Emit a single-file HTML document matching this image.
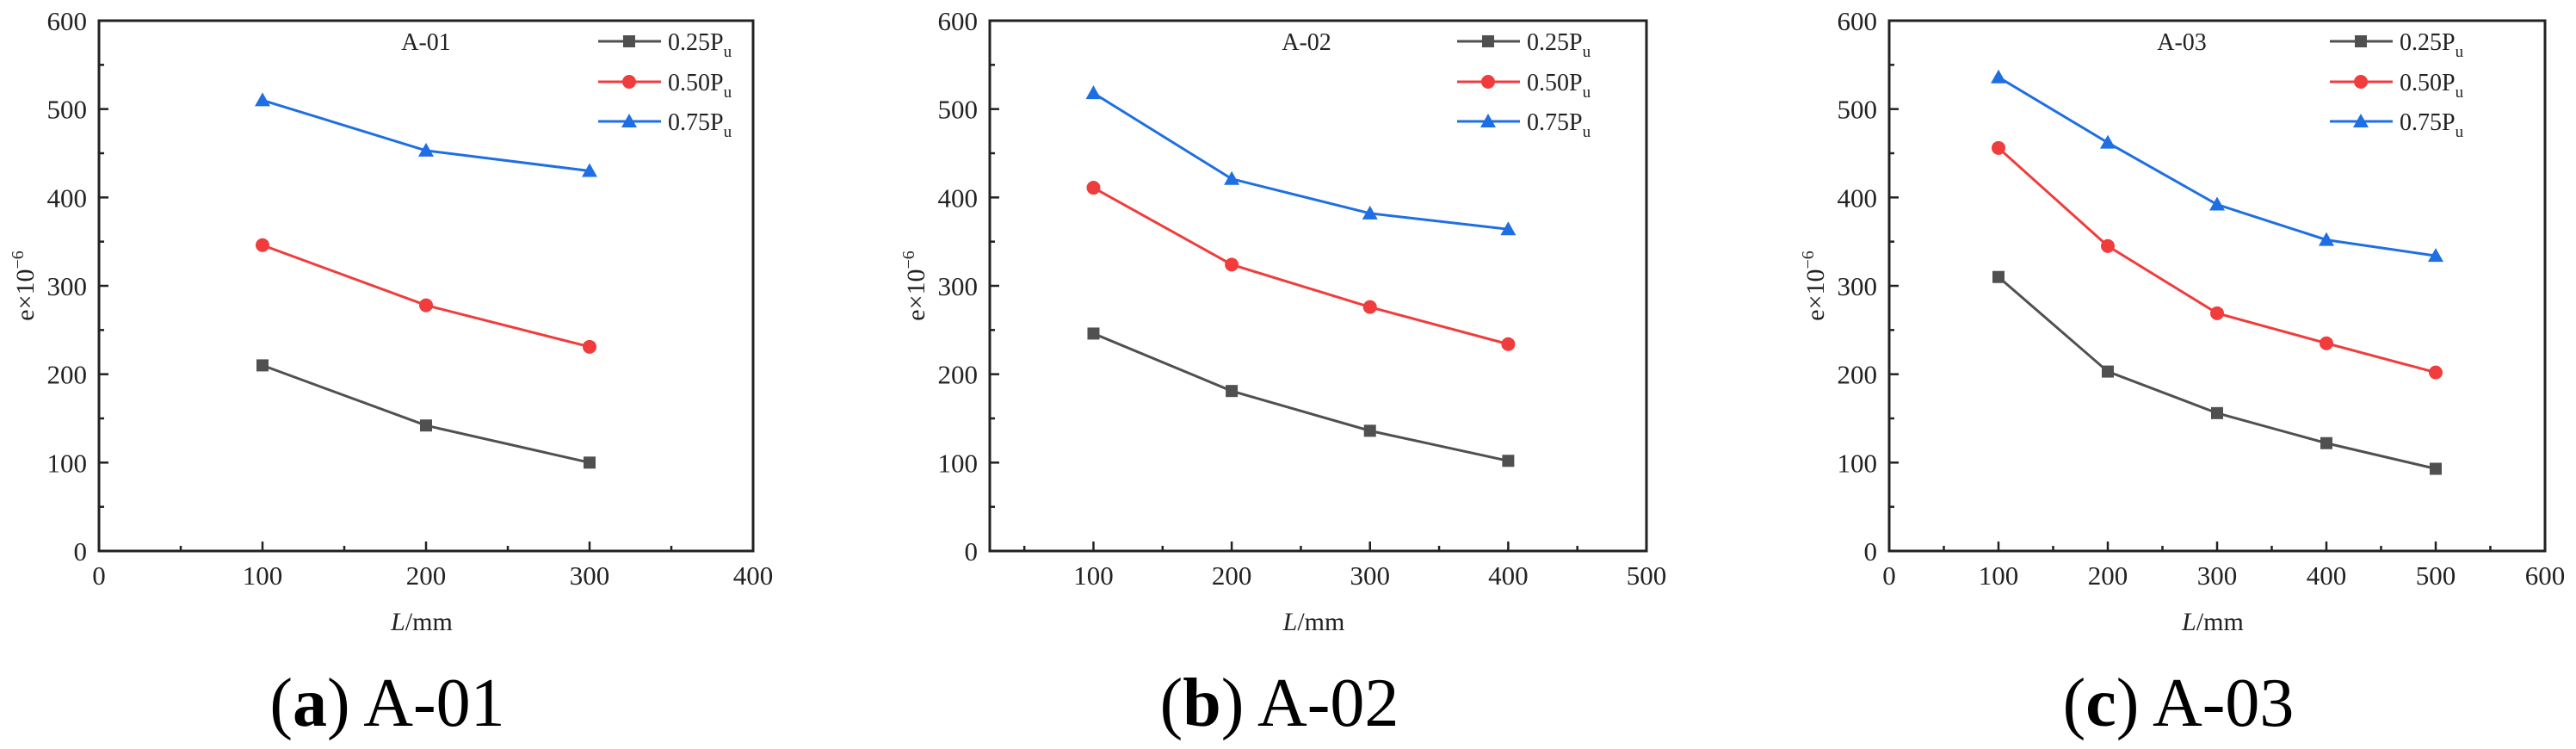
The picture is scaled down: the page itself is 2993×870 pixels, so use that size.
<!DOCTYPE html>
<html><head><meta charset="utf-8"><style>
html,body{margin:0;padding:0;background:#fff;}
svg{display:block;font-family:"Liberation Serif",serif;}
</style></head><body>
<svg id="fig" width="2993" height="870" viewBox="0 0 2993 870" xmlns="http://www.w3.org/2000/svg"></svg>
<script>
const seriesNames = ["0.25", "0.50", "0.75"];
const xA01 = [100, 200, 300];
const a01Low = [210, 142, 100];
const a01Mid = [346, 278, 231];
const a01High = [510, 453, 430];
const xA02 = [100, 200, 300, 400];
const a02Low = [246, 181, 136, 102];
const a02Mid = [411, 324, 276, 234];
const a02High = [518, 421, 382, 364];
const xA03 = [100, 200, 300, 400, 500];
const a03Low = [310, 203, 156, 122, 93];
const a03Mid = [456, 345, 269, 235, 202];
const a03High = [536, 462, 392, 352, 334];
const yTicks = [0, 100, 200, 300, 400, 500, 600];
const xTicksA01 = [0, 100, 200, 300, 400];
const xTicksA02 = [100, 200, 300, 400, 500];
const xTicksA03 = [0, 100, 200, 300, 400, 500, 600];

const NS = "http://www.w3.org/2000/svg";
const svgEl = document.getElementById("fig");
const colors = ["#505050", "#f03c3c", "#1e6fe3"];
function mk(tag, attrs, parent) {
  const e = document.createElementNS(NS, tag);
  for (const k in attrs) e.setAttribute(k, attrs[k]);
  (parent || svgEl).appendChild(e);
  return e;
}
function marker(g, kind, cx, cy, col) {
  let m;
  if (kind === 0) m = mk("rect", {x: cx - 7, y: cy - 7, width: 14, height: 14, fill: col}, g);
  else if (kind === 1) m = mk("circle", {cx: cx, cy: cy, r: 8, fill: col}, g);
  else m = mk("polygon", {points: `${cx},${cy - 9} ${cx - 9},${cy + 7} ${cx + 9},${cy + 7}`, fill: col}, g);
  return m;
}
const panels = [
  {id: "a01", title: "A-01", cap: "a", left: 115, right: 875, xmin: 0, xmax: 400, xs: xA01, ser: [a01Low, a01Mid, a01High], xt: xTicksA01, titleX: 495, legX: 695},
  {id: "a02", title: "A-02", cap: "b", left: 1150, right: 1913, xmin: 25, xmax: 500, xs: xA02, ser: [a02Low, a02Mid, a02High], xt: xTicksA02, titleX: 1518, legX: 1693},
  {id: "a03", title: "A-03", cap: "c", left: 2195, right: 2957, xmin: 0, xmax: 600, xs: xA03, ser: [a03Low, a03Mid, a03High], xt: xTicksA03, titleX: 2535, legX: 2707}
];
const plotTop = 24, plotBottom = 640;
panels.forEach(p => {
  const g = mk("g", {});
  
  
  const X = v => p.left + (v - p.xmin) / (p.xmax - p.xmin) * (p.right - p.left);
  const Y = v => plotBottom - v / 600 * (plotBottom - plotTop);
  const frame = mk("rect", {x: p.left, y: plotTop, width: p.right - p.left, height: plotBottom - plotTop, fill: "none", stroke: "#222", "stroke-width": 3}, g);
  
  
  for (let v = 0; v <= 600; v += 50) {
    const major = v % 100 === 0;
    mk("line", {x1: p.left, x2: p.left + (major ? 11 : 6), y1: Y(v), y2: Y(v), stroke: "#222", "stroke-width": 2.5}, g);
  }
  yTicks.forEach(v => {
    const t = mk("text", {x: p.left - 14, y: Y(v) + 11, "text-anchor": "end", "font-size": 31, fill: "#222"}, g);
    t.textContent = v;
    
    
  });
  for (let v = Math.ceil(p.xmin / 50) * 50; v <= p.xmax; v += 50) {
    const major = v % 100 === 0;
    mk("line", {x1: X(v), x2: X(v), y1: plotBottom, y2: plotBottom - (major ? 11 : 6), stroke: "#222", "stroke-width": 2.5}, g);
  }
  p.xt.forEach(v => {
    const t = mk("text", {x: X(v), y: 679, "text-anchor": "middle", "font-size": 31, fill: "#222"}, g);
    t.textContent = v;
    
    
  });
  const xl = mk("text", {x: (p.left + p.right) / 2 - 5, y: 732, "text-anchor": "middle", "font-size": 30, fill: "#222"}, g);
  xl.innerHTML = '<tspan font-style="italic">L</tspan>/mm';
  
  
  const yl = mk("text", {x: 0, y: 0, "text-anchor": "middle", "font-size": 30, fill: "#222", transform: `translate(${p.left - 76},332) rotate(-90)`}, g);
  yl.innerHTML = 'e×10<tspan dy="-12" font-size="20">−6</tspan>';
  
  
  const tt = mk("text", {x: p.titleX, y: 58, "text-anchor": "middle", "font-size": 28, fill: "#222"}, g);
  tt.textContent = p.title;
  
  
  p.ser.forEach((vals, k) => {
    const sg = mk("g", {}, g);
    
    
    const pts = vals.map((v, i) => X(p.xs[i]) + "," + Y(v)).join(" ");
    mk("polyline", {points: pts, fill: "none", stroke: colors[k], "stroke-width": 3}, sg);
    vals.forEach((v, i) => {
      const m = marker(sg, k, X(p.xs[i]), Y(v), colors[k]);
      
      
    });
  });
  const rows = [48, 95, 141];
  seriesNames.forEach((n, k) => {
    const lg = mk("g", {}, g);
    
    
    mk("line", {x1: p.legX, x2: p.legX + 73, y1: rows[k], y2: rows[k], stroke: colors[k], "stroke-width": 3}, lg);
    marker(lg, k, p.legX + 36, rows[k], colors[k]);
    const t = mk("text", {x: p.legX + 81, y: rows[k] + 10, "font-size": 28, fill: "#222"}, lg);
    t.innerHTML = n + 'P<tspan dy="8" font-size="19">u</tspan>';
  });
  const cap = mk("text", {x: (p.left + p.right) / 2 - 45, y: 843, "text-anchor": "middle", "font-size": 80, fill: "#000"}, g);
  cap.innerHTML = '(<tspan font-weight="bold">' + p.cap + '</tspan>) ' + p.title;
  
  
});
</script>
</body></html>
